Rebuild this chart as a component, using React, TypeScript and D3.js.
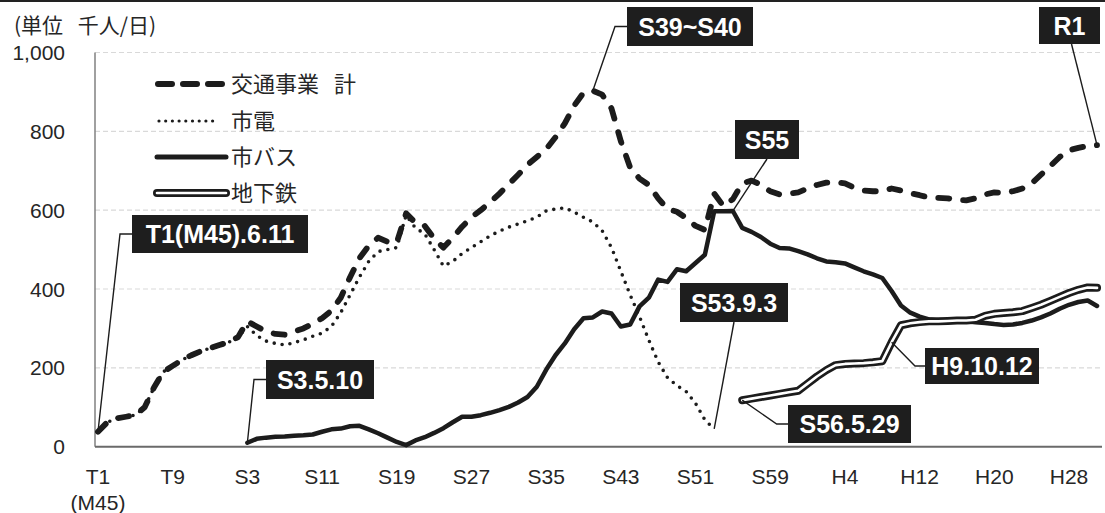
import React from 'react';
import * as d3 from 'd3';

// ---- categories (fiscal years, 1912 = T1/M45 ... 2019 = R1) ----
const startYear = 1912;
const endYear = 2019;
const years: number[] = d3.range(startYear, endYear + 1);

const tickYears = [1912, 1920, 1928, 1936, 1944, 1952, 1960, 1968, 1976, 1984, 1992, 2000, 2008, 2016];
const tickLabels = ['T1', 'T9', 'S3', 'S11', 'S19', 'S27', 'S35', 'S43', 'S51', 'S59', 'H4', 'H12', 'H20', 'H28'];

const yTicks = [0, 200, 400, 600, 800, 1000];

// ---- series (千人/日) ----
const totalStart = 1912;
const totalValues = [
  38, 62, 72, 76, 80, 100, 150, 190, 205, 220,
  232, 242, 250, 258, 265, 278, 318, 305, 292, 286,
  284, 292, 300, 312, 326, 345, 378, 430, 478, 510,
  530, 520, 518, 592, 568, 560, 528, 505, 530, 558,
  582, 600, 620, 642, 666, 690, 715, 735, 755, 785,
  820, 865, 898, 903, 893, 858, 775, 708, 680, 664,
  630, 603, 596, 580, 560, 550, 642, 610, 628, 668,
  675, 665, 648, 640, 642, 645, 655, 664, 670, 671,
  668, 657, 650, 648, 648, 655, 650, 643, 638, 632,
  631, 630, 626, 625, 630, 640, 645, 644, 648, 655,
  668, 690, 712, 735, 752, 758, 763, 765,
];

const streetcarStart = 1912;
const streetcarValues = [
  38, 62, 72, 76, 80, 100, 150, 190, 205, 220,
  232, 242, 250, 258, 265, 278, 305, 282, 268, 262,
  258, 264, 271, 280, 288, 305, 340, 385, 430, 470,
  495, 500, 505, 587, 555, 540, 500, 458, 470, 490,
  505, 520, 535, 547, 557, 565, 573, 582, 598, 603,
  606, 595, 582, 570, 548, 505, 445, 385, 330, 270,
  215, 175, 155, 140, 110, 68, 45,
];

const busStart = 1928;
const busValues = [
  10, 20, 23, 25, 26, 28, 29, 31, 38, 44,
  46, 52, 53, 44, 34, 23, 12, 4, 16, 24,
  35, 47, 62, 76, 76, 80, 86, 93, 101, 112,
  126, 152, 195, 232, 262, 298, 326, 328, 343, 338,
  305, 310, 356, 378, 424, 418, 450, 445, 466, 487,
  597, 597, 598, 555, 545, 532, 515, 504, 503, 496,
  488, 478, 470, 468, 465, 455, 445, 437, 428, 395,
  358, 340, 330, 323, 320, 318, 318, 318, 316, 314,
  311, 309, 310, 314, 320, 328, 338, 350, 360, 367,
  371, 357,
];

const subwayStart = 1981;
const subwayValues = [
  118, 122, 126, 130, 134, 138, 142, 160, 178, 194,
  207, 210, 211, 212, 214, 217, 265, 308, 313, 316,
  318, 318, 319, 320, 320, 322, 332, 337, 339, 341,
  344, 352, 360, 370, 380, 390, 398, 404, 403,
];

const legendLabels = ['交通事業 計', '市電', '市バス', '地下鉄'];

type Pt = { year: number; value: number };
const toPts = (start: number, vals: number[]): Pt[] => vals.map((v, i) => ({ year: start + i, value: v }));

const total = toPts(totalStart, totalValues);
const streetcar = toPts(streetcarStart, streetcarValues);
const bus = toPts(busStart, busValues);
const subway = toPts(subwayStart, subwayValues);

const W = 1105;
const H = 513;
const INK = '#1c1c1c';
const LATIN = "'Liberation Sans', Arial, Helvetica, sans-serif";
const CJK = "'Noto Sans CJK JP', 'Liberation Sans', sans-serif";

export default function App() {
  const x = d3.scalePoint<number>().domain(years).range([93.3, 1101.7]).padding(0.5);
  const y = d3.scaleLinear().domain([0, 1000]).range([446.7, 52.5]);
  const line = d3
    .line<Pt>()
    .x((d) => x(d.year) as number)
    .y((d) => y(d.value));

  const px = (yr: number) => x(yr) as number;
  const valAt = (pts: Pt[], yr: number) => (pts.find((p) => p.year === yr) as Pt).value;

  const plotLeft = 95;
  const plotRight = 1102;

  // annotations: anchored on data, boxes placed in layout
  const annotations = [
    { label: 'T1(M45).6.11', ax: px(1912), ay: y(valAt(total, 1912)), elbow: [120, 234], box: [132, 215, 176, 38] },
    { label: 'S3.5.10', ax: px(1928), ay: y(valAt(bus, 1928)), elbow: [254, 379.5], box: [266, 360, 108, 39] },
    { label: 'S39~S40', ax: px(1965), ay: y(valAt(total, 1965)), elbow: [615, 26.5], box: [627, 7, 126, 39] },
    { label: 'S55', ax: px(1980), ay: y(valAt(bus, 1980)), elbow: null, box: [735, 120, 64, 39], to: [767, 159] },
    { label: 'R1', ax: px(2019), ay: y(valAt(total, 2019)), elbow: null, box: [1039, 7, 61, 37], to: [1071.5, 44] },
    { label: 'S53.9.3', ax: px(1978), ay: y(valAt(streetcar, 1978)), elbow: null, box: [680, 283, 108, 39], to: [734, 322] },
    { label: 'S56.5.29', ax: px(1981), ay: y(valAt(subway, 1981)), elbow: [776.7, 424], box: [788, 405, 123, 38] },
    { label: 'H9.10.12', ax: px(1997), ay: y(valAt(subway, 1997)), elbow: [915, 366], box: [925, 348, 114, 36] },
  ];

  const legendRows = [84, 121, 157, 193];

  return (
    <div style={{ position: 'absolute', left: 0, top: 0 }}>
      <svg width={W} height={H} viewBox={`0 0 ${W} ${H}`} style={{ display: 'block', background: '#fff' }}>
        <rect x={0} y={0} width={W} height={H} fill="#fff" />
        <rect x={0} y={0} width={W} height={2} fill="#222" />

        {/* gridlines */}
        {yTicks
          .filter((t) => t > 0)
          .map((t) => (
            <line key={'g' + t} x1={plotLeft} x2={plotRight} y1={y(t)} y2={y(t)} stroke="#d9d9d9" strokeWidth={1.2} strokeDasharray="5 3" />
          ))}

        {/* axes */}
        <line x1={plotLeft} x2={plotLeft} y1={y(1000)} y2={y(0)} stroke="#808080" strokeWidth={1.5} />
        <line x1={plotLeft} x2={plotRight} y1={y(0)} y2={y(0)} stroke="#6a6a6a" strokeWidth={2} />

        {/* y tick labels */}
        {yTicks.map((t) => (
          <text key={'yl' + t} x={65} y={y(t)} dy="0.36em" textAnchor="end" fontFamily={LATIN} fontSize={21} fill="#262626">
            {d3.format(',')(t)}
          </text>
        ))}

        {/* x tick labels */}
        {tickYears.map((yr, i) => (
          <text key={'xl' + yr} x={px(yr)} y={484} textAnchor="middle" fontFamily={LATIN} fontSize={21} fill="#262626">
            {tickLabels[i]}
          </text>
        ))}
        <text x={px(1912)} y={510} textAnchor="middle" fontFamily={LATIN} fontSize={21} fill="#262626">
          (M45)
        </text>

        {/* unit title */}
        <text x={14} y={33} fontFamily={CJK} fontSize={21} fill="#262626" style={{ wordSpacing: '10px' }}>
          (単位 千人/日)
        </text>

        {/* series */}
        <path d={line(streetcar) || ''} fill="none" stroke={INK} strokeWidth={3.6} strokeLinecap="round" strokeDasharray="0 8" />
        <path d={line(total) || ''} fill="none" stroke={INK} strokeWidth={5.8} strokeLinecap="round" strokeLinejoin="round" strokeDasharray="11 14" />
        <path d={line(bus) || ''} fill="none" stroke={INK} strokeWidth={4.5} strokeLinecap="round" strokeLinejoin="round" />
        <path d={line(subway) || ''} fill="none" stroke={INK} strokeWidth={8} strokeLinecap="round" strokeLinejoin="round" />
        <path d={line(subway) || ''} fill="none" stroke="#fff" strokeWidth={2.6} strokeLinecap="round" strokeLinejoin="round" />

        {/* legend */}
        <g>
          <line x1={158} x2={226} y1={legendRows[0]} y2={legendRows[0]} stroke={INK} strokeWidth={6} strokeLinecap="round" strokeDasharray="14 11" />
          <line x1={159} x2={219} y1={legendRows[1]} y2={legendRows[1]} stroke={INK} strokeWidth={3.2} strokeLinecap="round" strokeDasharray="0 6.7" />
          <line x1={157} x2={226} y1={legendRows[2]} y2={legendRows[2]} stroke={INK} strokeWidth={5} strokeLinecap="round" />
          <line x1={157} x2={226} y1={legendRows[3]} y2={legendRows[3]} stroke={INK} strokeWidth={8} strokeLinecap="round" />
          <line x1={157} x2={226} y1={legendRows[3]} y2={legendRows[3]} stroke="#fff" strokeWidth={2.6} strokeLinecap="round" />
          {legendLabels.map((l, i) => (
            <text key={l} x={231} y={legendRows[i]} dy="0.36em" fontFamily={CJK} fontSize={22} fill="#262626" style={{ wordSpacing: '10px' }}>
              {l}
            </text>
          ))}
        </g>

        {/* annotations */}
        {annotations.map((a) => {
          const [bx, by, bw, bh] = a.box;
          const pts: number[][] = [[a.ax, a.ay]];
          if (a.elbow) {
            pts.push(a.elbow);
            pts.push([bx, a.elbow[1]]);
          } else if (a.to) {
            pts.push(a.to);
          }
          const d = 'M' + pts.map((p) => p.join(',')).join('L');
          return (
            <g key={a.label}>
              <path d={d} fill="none" stroke={INK} strokeWidth={1.4} />
              <rect x={bx} y={by} width={bw} height={bh} fill="#1e1e1e" />
              <text x={bx + bw / 2} y={by + bh / 2} dy="0.36em" textAnchor="middle" fontFamily={LATIN} fontWeight="bold" fontSize={25} fill="#fff">
                {a.label}
              </text>
            </g>
          );
        })}
      </svg>
    </div>
  );
}
